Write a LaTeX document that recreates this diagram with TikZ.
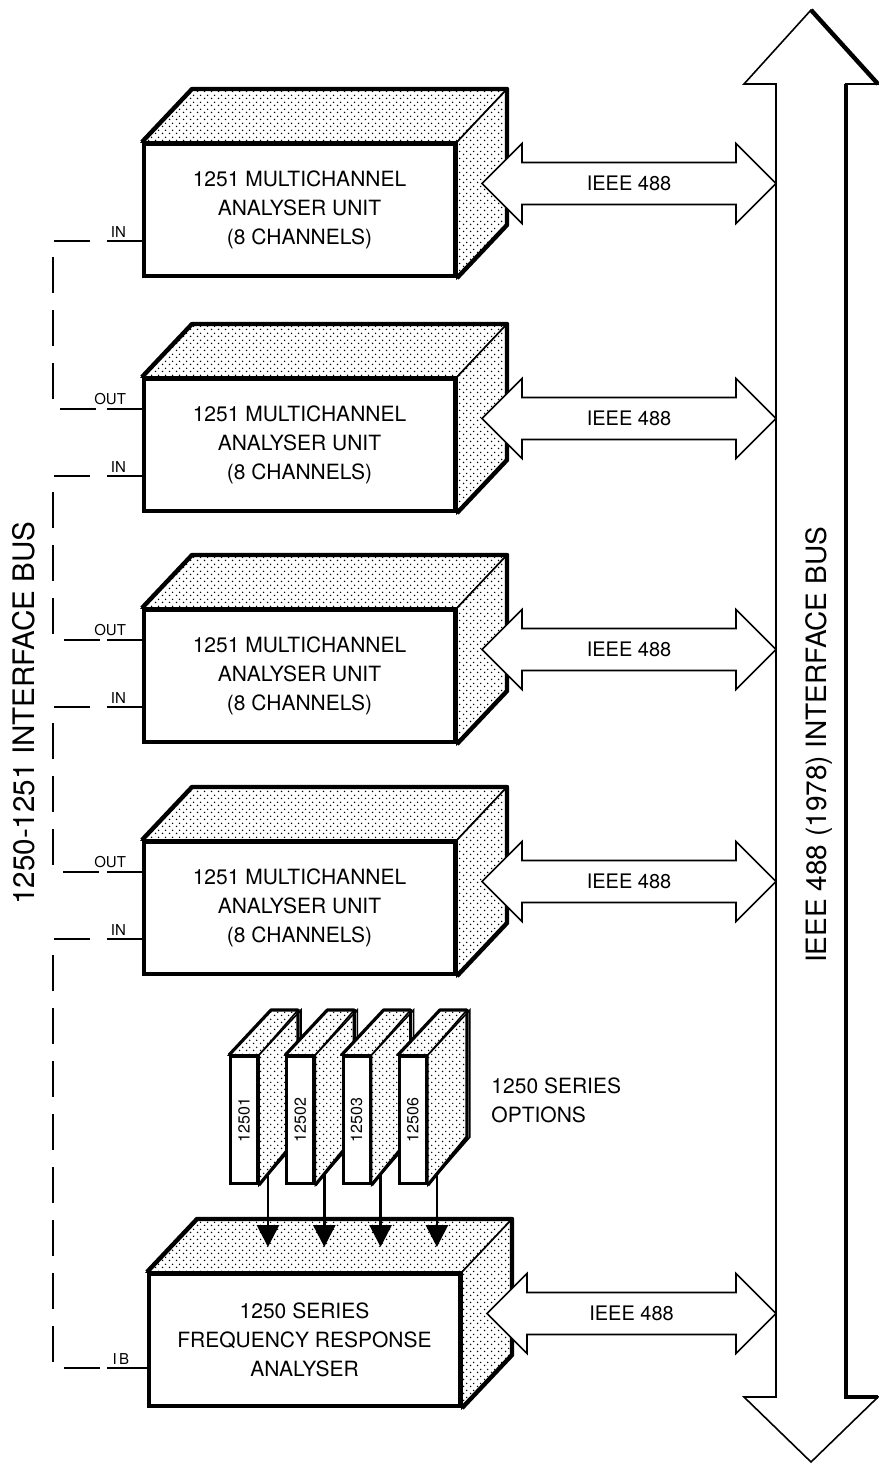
\documentclass[tikz,border=0pt]{standalone}
\usepackage{fontspec}
\setmainfont{TeX Gyre Heros}
\usetikzlibrary{arrows.meta, patterns, calc}

% sparse stipple for the shaded faces
\pgfdeclarepatternformonly{stipple}{\pgfqpoint{0pt}{0pt}}{\pgfqpoint{3.5pt}{3.5pt}}%
  {\pgfqpoint{3.5pt}{3.5pt}}{%
  \pgfpathcircle{\pgfqpoint{0.875pt}{0.875pt}}{.45pt}%
  \pgfpathcircle{\pgfqpoint{2.625pt}{2.625pt}}{.45pt}%
  \pgfusepath{fill}}

\tikzset{
  unitfront/.style={draw, line width=2pt, fill=white, minimum width=155.5pt,
    minimum height=66pt, inner sep=0pt, align=center},
  dotface/.style={preaction={fill=white}, pattern=stipple, draw, line width=0.8pt},
  boxedge/.style={line width=2.2pt, line join=round},
  cardfront/.style={draw, line width=1.5pt, fill=white, minimum width=13.5pt,
    minimum height=63.5pt, inner sep=0pt},
  cardedge/.style={line width=1.6pt, line join=round},
  cardlabel/.style={rotate=90, font=\fontsize{8}{9}\selectfont},
  portlabel/.style={font=\fontsize{7.5}{8}\selectfont, inner sep=1.5pt},
  ifline/.style={line width=0.9pt, dash pattern=on 18pt off 8.5pt, dash phase=18pt},
  ieeelink/.style={fill=white, line width=0.8pt, line join=miter},
  ieeetext/.style={font=\fontsize{10}{12}\selectfont, inner sep=0pt},
  optarrow/.style={line width=1.4pt, -{Triangle[length=11pt, width=11pt]}},
  busname/.style={rotate=90, font=\fontsize{14}{16}\selectfont}
}

\begin{document}
\begin{tikzpicture}[x=0.5pt, y=-0.5pt, line width=0.8pt,
    font=\fontsize{10.5}{14.5}\selectfont]
  \useasboundingbox (0,0) rectangle (878,1465);

  % IEEE 488 bus on the right
  \coordinate (busL) at (776,0);
  \draw[fill=white] (811,10) -- (878,84) -- (846,84) -- (846,1397) -- (878,1397)
    -- (811,1462) -- (744,1397) -- (776,1397) -- (776,84) -- (744,84) -- cycle;
  \draw[line width=2.2pt] (811,10) -- (878,84);
  \draw[line width=2.2pt] (846,84) -- (846,1397) -- (878,1397);
  \node[busname] (ieeebus) at (819,745) {IEEE 488 (1978) INTERFACE BUS};

  % 1251 analyser units
  \foreach \n/\y in {1/142, 2/377, 3/608, 4/840} {
    \node[unitfront, anchor=north west] (u\n) at (142,\y)
      {1251 MULTICHANNEL\\ANALYSER UNIT\\(8 CHANNELS)};
    \filldraw[dotface] (u\n.north west) -- ++(50,-53)
      -- ($(u\n.north east)+(50,-53)$) -- (u\n.north east) -- cycle;
    \filldraw[dotface] (u\n.north east) -- ++(50,-53)
      -- ($(u\n.south east)+(50,-53)$) -- (u\n.south east) -- cycle;
    \draw[boxedge] (u\n.north west) -- ++(50,-53) -- ($(u\n.north east)+(50,-53)$)
      -- ($(u\n.south east)+(50,-53)$) -- (u\n.south east);
  }

  % 1250 frequency response analyser
  \node[unitfront, anchor=north west] (fra) at (147,1272)
    {1250 SERIES\\FREQUENCY RESPONSE\\ANALYSER};
  \filldraw[dotface] (fra.north west) -- ++(50,-53)
    -- ($(fra.north east)+(50,-53)$) -- (fra.north east) -- cycle;
  \filldraw[dotface] (fra.north east) -- ++(50,-53)
    -- ($(fra.south east)+(50,-53)$) -- (fra.south east) -- cycle;
  \draw[boxedge] (fra.north west) -- ++(50,-53) -- ($(fra.north east)+(50,-53)$)
    -- ($(fra.south east)+(50,-53)$) -- (fra.south east);

  % IEEE 488 links from each unit to the bus
  \foreach \n in {u1, u2, u3, u4, fra} {
    \coordinate (rf\n) at ($(\n.east)+(25,-26.5)$);
    \coordinate (bt\n) at (busL |- rf\n);
    \draw[ieeelink] (rf\n) -- ++(40,-40) -- ++(0,19) -- ($(bt\n)+(-40,-21)$)
      -- ++(0,-19) -- (bt\n) -- ++(-40,40) -- ++(0,-19)
      -- ($(rf\n)+(40,21)$) -- ++(0,19) -- cycle;
    \node[ieeetext] (t\n) at ($(rf\n)!.5!(bt\n)$) {IEEE 488};
  }

  % option cards
  \foreach \i/\lab in {0/12501, 1/12502, 2/12503, 3/12506} {
    \node[cardfront, anchor=north west] (c\i) at ({229+56.3*\i},1055) {};
    \filldraw[dotface] (c\i.north west) -- ++(42,-45) -- ++(27,0)
      -- (c\i.north east) -- cycle;
    \filldraw[dotface] (c\i.north east) -- ++(42,-45) -- ++(0,127)
      -- (c\i.south east) -- cycle;
    \draw[cardedge] (c\i.north west) -- ++(42,-45) -- ++(27,0) -- ++(0,127)
      -- (c\i.south east);
    \node[cardlabel] (l\i) at (c\i) {\lab};
  }
  \node[anchor=west, align=left] (optname) at (484,1100) {1250 SERIES\\OPTIONS};

  % cards plug into the analyser
  \coordinate (tipy) at (0,1247);
  \foreach \i in {0,...,3} {
    \coordinate (a\i) at ($(c\i.south east)+(9,-10)$);
    \draw[optarrow] (a\i) -- (a\i |- tipy);
  }

  % 1250-1251 interface bus
  \coordinate (rail) at (53,0);
  \foreach \n in {u1, u2, u3, u4} {
    \draw (\n.north west) ++(0,99) coordinate (in\n)
      -- node[portlabel, pos=.35, anchor=south east] {IN} ++(-35,0) coordinate (inx\n);
  }
  \foreach \n in {u2, u3, u4} {
    \draw (\n.north west) ++(0,32) coordinate (out\n)
      -- node[portlabel, pos=.35, anchor=south east] {OUT} ++(-35,0) coordinate (outx\n);
  }
  \draw (fra.north west) ++(0,96) coordinate (ib)
    -- node[portlabel, pos=.35, anchor=south east] {I\,B} ++(-40,0) coordinate (ibx);

  \draw[ifline] (inxu1) -- (inxu1 -| rail) -- (outxu2 -| rail) -- (outxu2);
  \draw[ifline] (inxu2) -- (inxu2 -| rail) -- (outxu3 -| rail) -- (outxu3);
  \draw[ifline] (inxu3) -- (inxu3 -| rail) -- (outxu4 -| rail) -- (outxu4);
  \draw[ifline] (inxu4) -- (inxu4 -| rail) -- (ibx -| rail) -- (ibx);
  \node[busname, font=\fontsize{14.8}{16}\selectfont] (ifbus) at (24,713)
    {1250-1251 INTERFACE BUS};

\end{tikzpicture}
\end{document}
